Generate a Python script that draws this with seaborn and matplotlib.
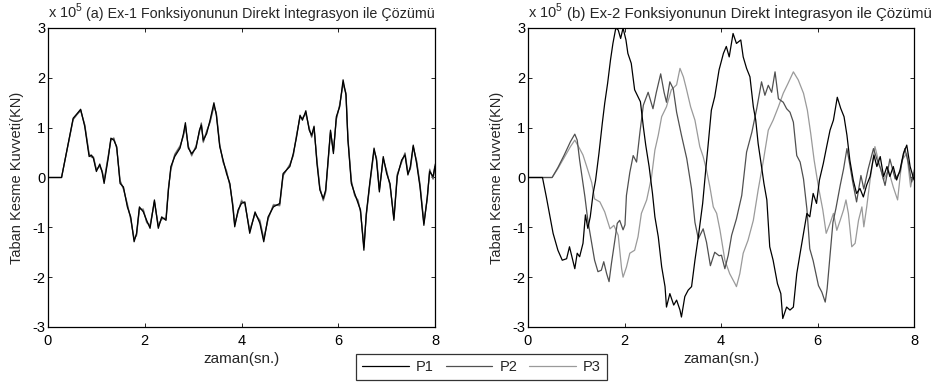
import matplotlib
matplotlib.use("Agg")
import matplotlib.pyplot as plt
import seaborn as sns
import pandas as pd
from matplotlib.lines import Line2D

# ---------------- data (values x 10^5 kN) ----------------
series_names = ["P1", "P2", "P3"]
series_colors = ["#000000", "#505050", "#9a9a9a"]

# Panel (a): Ex-1
t_a = [0, 0.28, 0.52, 0.6, 0.675, 0.76, 0.85, 0.9, 0.94, 1.0, 1.07, 1.12, 1.16, 1.25, 1.30, 1.36,
       1.42, 1.49, 1.56, 1.64, 1.71, 1.78, 1.83, 1.89, 1.97, 2.04, 2.11, 2.2, 2.28, 2.35, 2.44, 2.49,
       2.54, 2.62, 2.73, 2.80, 2.84, 2.9, 2.97, 3.06, 3.13, 3.17, 3.21, 3.28, 3.35, 3.43, 3.48, 3.55,
       3.62, 3.69, 3.76, 3.82, 3.86, 3.93, 4.0, 4.07, 4.17, 4.28, 4.38, 4.46, 4.55, 4.66, 4.79, 4.86,
       5.0, 5.07, 5.14, 5.21, 5.26, 5.33, 5.40, 5.45, 5.50, 5.56, 5.62, 5.69, 5.74, 5.79, 5.84, 5.90,
       5.96, 6.03, 6.10, 6.16, 6.20, 6.27, 6.34, 6.41, 6.46, 6.53, 6.58, 6.65, 6.74, 6.79, 6.85, 6.93,
       7.0, 7.07, 7.15, 7.22, 7.31, 7.38, 7.44, 7.49, 7.55, 7.62, 7.69, 7.77, 7.84, 7.89, 7.96, 8.0]
p1_a = [0, 0, 1.19, 1.28, 1.37, 1.02, 0.42, 0.45, 0.38, 0.12, 0.27, 0.10, -0.12, 0.42, 0.79, 0.75,
        0.62, -0.12, -0.19, -0.59, -0.79, -1.29, -1.12, -0.59, -0.69, -0.86, -1.02, -0.45, -1.02, -0.79, -0.86, -0.25,
        0.22, 0.42, 0.59, 0.88, 1.10, 0.59, 0.48, 0.59, 0.95, 1.05, 0.75, 0.88, 1.15, 1.50, 1.25, 0.62,
        0.35, 0.08, -0.12, -0.59, -0.99, -0.65, -0.52, -0.49, -1.12, -0.69, -0.92, -1.29, -0.79, -0.59, -0.52, 0.08,
        0.22, 0.48, 0.82, 1.25, 1.15, 1.34, 0.95, 0.85, 1.03, 0.28, -0.25, -0.42, -0.25, 0.35, 0.95, 0.48,
        1.22, 1.42, 1.96, 1.65, 0.75, -0.12, -0.32, -0.52, -0.65, -1.46, -0.72, -0.12, 0.59, 0.35, -0.29, 0.42,
        0.08, -0.12, -0.86, 0.02, 0.35, 0.45, 0.05, 0.22, 0.65, 0.28, -0.19, -0.96, -0.39, 0.12, 0.02, 0.22]
p2_a = [0, 0, 1.17, 1.27, 1.35, 1.05, 0.46, 0.42, 0.40, 0.15, 0.24, 0.12, -0.08, 0.45, 0.76, 0.78,
        0.60, -0.08, -0.22, -0.55, -0.82, -1.25, -1.15, -0.62, -0.66, -0.89, -0.98, -0.48, -0.98, -0.82, -0.83, -0.22,
        0.18, 0.45, 0.62, 0.85, 1.05, 0.62, 0.45, 0.62, 0.92, 1.08, 0.72, 0.92, 1.12, 1.45, 1.28, 0.65,
        0.32, 0.12, -0.15, -0.55, -0.95, -0.68, -0.48, -0.52, -1.08, -0.72, -0.88, -1.25, -0.82, -0.56, -0.55, 0.05,
        0.25, 0.45, 0.85, 1.22, 1.18, 1.30, 0.98, 0.82, 1.00, 0.32, -0.22, -0.45, -0.28, 0.32, 0.92, 0.52,
        1.18, 1.45, 1.90, 1.68, 0.78, -0.08, -0.35, -0.48, -0.68, -1.40, -0.75, -0.15, 0.55, 0.38, -0.25, 0.38,
        0.12, -0.15, -0.82, 0.05, 0.32, 0.48, 0.08, 0.18, 0.62, 0.32, -0.15, -0.92, -0.42, 0.15, -0.02, 0.25]
p3_a = [0, 0, 1.16, 1.26, 1.34, 1.06, 0.48, 0.40, 0.42, 0.16, 0.22, 0.14, -0.05, 0.47, 0.74, 0.80,
        0.58, -0.05, -0.24, -0.52, -0.85, -1.22, -1.17, -0.64, -0.63, -0.91, -0.95, -0.50, -0.95, -0.84, -0.80, -0.20,
        0.15, 0.47, 0.64, 0.83, 1.02, 0.64, 0.43, 0.64, 0.90, 1.10, 0.70, 0.94, 1.10, 1.42, 1.30, 0.67,
        0.30, 0.14, -0.17, -0.52, -0.92, -0.70, -0.45, -0.54, -1.05, -0.74, -0.85, -1.22, -0.84, -0.54, -0.57, 0.03,
        0.27, 0.43, 0.87, 1.20, 1.20, 1.27, 1.00, 0.80, 0.98, 0.35, -0.20, -0.47, -0.30, 0.30, 0.90, 0.55,
        1.15, 1.47, 1.86, 1.70, 0.80, -0.05, -0.37, -0.45, -0.70, -1.36, -0.77, -0.17, 0.52, 0.40, -0.22, 0.36,
        0.14, -0.17, -0.79, 0.07, 0.30, 0.50, 0.10, 0.16, 0.60, 0.34, -0.13, -0.89, -0.44, 0.17, -0.04, 0.27]

# Panel (b): Ex-2
t_b1 = [0, 0.30, 0.38, 0.52, 0.62, 0.71, 0.80, 0.86, 0.91, 0.97, 1.02, 1.07, 1.14, 1.19, 1.24, 1.29,
        1.35, 1.40, 1.47, 1.54, 1.59, 1.65, 1.71, 1.76, 1.82, 1.87, 1.92, 1.97, 2.03, 2.07, 2.14, 2.21,
        2.28, 2.33, 2.39, 2.44, 2.51, 2.58, 2.63, 2.70, 2.77, 2.84, 2.87, 2.94, 3.02, 3.08, 3.15, 3.18,
        3.25, 3.32, 3.39, 3.46, 3.53, 3.62, 3.69, 3.73, 3.80, 3.87, 3.96, 4.05, 4.11, 4.17, 4.25, 4.32,
        4.41, 4.46, 4.53, 4.60, 4.67, 4.72, 4.77, 4.84, 4.89, 4.95, 5.01, 5.08, 5.17, 5.24, 5.28, 5.36,
        5.43, 5.50, 5.57, 5.64, 5.71, 5.78, 5.84, 5.91, 5.98, 6.04, 6.12, 6.19, 6.26, 6.33, 6.41, 6.48,
        6.55, 6.61, 6.67, 6.74, 6.81, 6.88, 6.95, 7.02, 7.09, 7.17, 7.23, 7.30, 7.37, 7.44, 7.50, 7.57,
        7.64, 7.71, 7.78, 7.85, 7.92, 8.0]
p1_b = [0, 0, -0.39, -1.12, -1.46, -1.66, -1.63, -1.39, -1.59, -1.83, -1.52, -1.59, -1.32, -0.75, -1.02, -0.79,
        -0.32, -0.06, 0.48, 1.09, 1.49, 1.89, 2.36, 2.69, 3.0, 2.96, 2.79, 3.0, 2.76, 2.49, 2.29, 1.76,
        1.62, 1.52, 1.02, 0.65, 0.22, -0.32, -0.79, -1.19, -1.79, -2.19, -2.60, -2.33, -2.56, -2.46, -2.66, -2.80,
        -2.39, -2.26, -2.19, -1.66, -1.19, -0.52, 0.22, 0.62, 1.35, 1.62, 2.16, 2.49, 2.63, 2.42, 2.89, 2.69,
        2.76, 2.42, 2.19, 2.02, 1.42, 1.15, 0.68, 0.22, -0.12, -0.45, -1.39, -1.66, -2.13, -2.33, -2.83, -2.60,
        -2.66, -2.60, -1.93, -1.52, -1.12, -0.72, -0.79, -0.32, -0.52, -0.05, 0.28, 0.62, 0.95, 1.15, 1.61, 1.39,
        1.22, 0.85, 0.35, -0.05, -0.32, -0.22, -0.39, -0.15, 0.02, 0.45, 0.22, 0.42, 0.02, 0.22, 0.02, 0.22,
        -0.05, 0.15, 0.48, 0.65, 0.22, -0.05]

t_b2 = [0, 0.50, 0.62, 0.75, 0.88, 0.97, 1.02, 1.07, 1.18, 1.24, 1.31, 1.38, 1.45, 1.52, 1.57, 1.63,
        1.68, 1.73, 1.80, 1.85, 1.90, 1.97, 2.01, 2.04, 2.11, 2.18, 2.25, 2.32, 2.39, 2.49, 2.59, 2.66,
        2.75, 2.82, 2.87, 2.94, 3.01, 3.08, 3.18, 3.29, 3.39, 3.46, 3.53, 3.63, 3.70, 3.78, 3.87, 3.96,
        4.01, 4.08, 4.15, 4.22, 4.32, 4.43, 4.53, 4.64, 4.74, 4.84, 4.91, 4.98, 5.05, 5.12, 5.19, 5.29,
        5.36, 5.43, 5.50, 5.57, 5.64, 5.71, 5.78, 5.84, 5.91, 6.02, 6.09, 6.16, 6.20, 6.26, 6.32, 6.38,
        6.47, 6.54, 6.61, 6.66, 6.73, 6.81, 6.90, 6.96, 7.05, 7.16, 7.23, 7.31, 7.40, 7.50, 7.61, 7.71,
        7.81, 7.88, 7.95, 8.0]
p2_b = [0, 0, 0.20, 0.45, 0.72, 0.87, 0.75, 0.35, -0.39, -0.86, -1.26, -1.66, -1.89, -1.86, -1.69, -1.93,
        -2.09, -1.72, -1.26, -0.92, -0.86, -1.05, -0.95, -0.36, 0.10, 0.44, 0.31, 0.91, 1.45, 1.71, 1.38, 1.71,
        2.08, 1.71, 1.51, 1.92, 1.78, 1.31, 0.85, 0.38, -0.23, -0.90, -1.23, -1.03, -1.30, -1.77, -1.50, -1.57,
        -1.56, -1.83, -1.56, -1.16, -0.83, -0.36, 0.51, 0.91, 1.38, 1.92, 1.65, 1.85, 1.71, 2.12, 1.58, 1.51,
        1.38, 1.31, 1.11, 0.44, 0.31, -0.03, -0.63, -1.43, -1.67, -2.17, -2.30, -2.50, -2.23, -1.56, -0.90, -0.63,
        -0.16, 0.17, 0.58, 0.31, -0.09, -0.49, 0.04, -0.23, 0.17, 0.58, 0.37, 0.17, -0.16, 0.37, -0.03, 0.11,
        0.58, 0.31, -0.09, 0.10]

t_b3 = [0, 0.50, 0.62, 0.75, 0.88, 0.97, 1.07, 1.14, 1.21, 1.32, 1.38, 1.49, 1.59, 1.70, 1.78, 1.87,
        1.94, 1.97, 2.04, 2.11, 2.21, 2.28, 2.35, 2.46, 2.56, 2.63, 2.70, 2.77, 2.87, 2.97, 3.08, 3.15,
        3.22, 3.28, 3.37, 3.46, 3.56, 3.63, 3.70, 3.77, 3.84, 3.91, 3.98, 4.08, 4.18, 4.29, 4.32, 4.39,
        4.46, 4.56, 4.67, 4.77, 4.88, 4.98, 5.08, 5.19, 5.29, 5.39, 5.50, 5.60, 5.71, 5.79, 5.86, 5.93,
        6.02, 6.11, 6.18, 6.26, 6.33, 6.40, 6.47, 6.54, 6.59, 6.64, 6.71, 6.78, 6.85, 6.92, 6.96, 7.02,
        7.09, 7.19, 7.26, 7.37, 7.47, 7.57, 7.66, 7.75, 7.85, 7.93, 8.0]
p3_b = [0, 0, 0.18, 0.40, 0.62, 0.75, 0.58, 0.45, 0.24, -0.10, -0.43, -0.49, -0.69, -1.03, -0.96, -1.16,
        -1.83, -2.00, -1.80, -1.52, -1.46, -1.19, -0.72, -0.45, 0.01, 0.55, 0.85, 1.22, 1.42, 1.76, 1.86, 2.19,
        2.02, 1.79, 1.42, 1.15, 0.62, 0.42, 0.15, -0.19, -0.59, -0.72, -1.06, -1.66, -1.93, -2.13, -2.19, -1.93,
        -1.52, -1.26, -0.86, -0.25, 0.35, 0.95, 1.15, 1.42, 1.69, 1.89, 2.12, 1.96, 1.69, 1.35, 0.88, 0.35,
        -0.19, -0.65, -1.12, -0.92, -0.72, -1.06, -0.86, -0.65, -0.45, -0.72, -1.39, -1.32, -0.86, -0.59, -0.99, -0.59,
        -0.05, 0.62, 0.35, -0.05, 0.15, -0.19, -0.45, 0.35, 0.48, -0.19, 0.15]

x_ticks = [0, 2, 4, 6, 8]
y_ticks = [-3, -2, -1, 0, 1, 2, 3]
titles = ["(a) Ex-1 Fonksiyonunun Direkt İntegrasyon ile Çözümü",
          "(b) Ex-2 Fonksiyonunun Direkt İntegrasyon ile Çözümü"]
y_label = "Taban Kesme Kuvveti(KN)"
x_label = "zaman(sn.)"

# ---------------- build frames ----------------
def frame(ts, vs, name):
    return pd.DataFrame({"t": ts, "v": vs, "series": name})

df_a = pd.concat([frame(t_a, p3_a, "P3"), frame(t_a, p2_a, "P2"), frame(t_a, p1_a, "P1")],
                 ignore_index=True)
df_b = pd.concat([frame(t_b3, p3_b, "P3"), frame(t_b2, p2_b, "P2"), frame(t_b1, p1_b, "P1")],
                 ignore_index=True)

# ---------------- style ----------------
sns.set_style("ticks")
plt.rcParams["font.family"] = ["Liberation Sans", "DejaVu Sans"]
plt.rcParams["mathtext.fontset"] = "custom"
plt.rcParams["mathtext.rm"] = "Liberation Sans"
plt.rcParams["axes.unicode_minus"] = False
FS = 10.5

palette = dict(zip(series_names, series_colors))

fig = plt.figure(figsize=(9.44, 3.85), dpi=100)
H = 385.0
W = 944.0
ax_a = fig.add_axes([48 / W, 1 - 327 / H, 387 / W, 299 / H])
ax_b = fig.add_axes([528 / W, 1 - 327 / H, 386 / W, 299 / H])

for ax, df in [(ax_a, df_a), (ax_b, df_b)]:
    sns.lineplot(data=df, x="t", y="v", hue="series", palette=palette, ax=ax,
                 estimator=None, sort=False, legend=False, linewidth=0.9)
    ax.set_xlim(0, 8)
    ax.set_ylim(-3, 3)
    ax.set_xticks(x_ticks)
    ax.set_yticks(y_ticks)
    ax.tick_params(direction="in", length=3, width=0.6, top=True, right=True,
                   labelsize=FS, colors="black")
    ax.tick_params(axis="x", pad=5)
    ax.tick_params(axis="y", pad=2)
    for sp in ax.spines.values():
        sp.set_linewidth(0.9)
        sp.set_color("black")
    ax.set_xlabel(x_label, fontsize=11, labelpad=3)
    ax.set_ylabel(y_label, fontsize=FS, labelpad=6)

# exponent labels and titles
for ax, title, xoff, fs in [(ax_a, titles[0], 0.098, 10.3), (ax_b, titles[1], 0.101, 10.8)]:
    ax.text(0.0, 1.035, r"x 10$^{5}$", transform=ax.transAxes, fontsize=FS,
            ha="left", va="baseline")
    ax.text(xoff, 1.035, title, transform=ax.transAxes, fontsize=fs,
            ha="left", va="baseline")

handles = [Line2D([], [], color=c, lw=0.9) for c in series_colors]
leg = fig.legend(handles, series_names, loc="center", ncol=3,
                 bbox_to_anchor=(481.7 / W, 1 - 367 / H), fontsize=FS,
                 frameon=True, fancybox=False, edgecolor="black",
                 handlelength=3.2, handletextpad=0.5, columnspacing=0.8,
                 borderpad=0.4, borderaxespad=0)
leg.get_frame().set_linewidth(0.9)

fig.savefig("out.png", dpi=100, facecolor="white")
